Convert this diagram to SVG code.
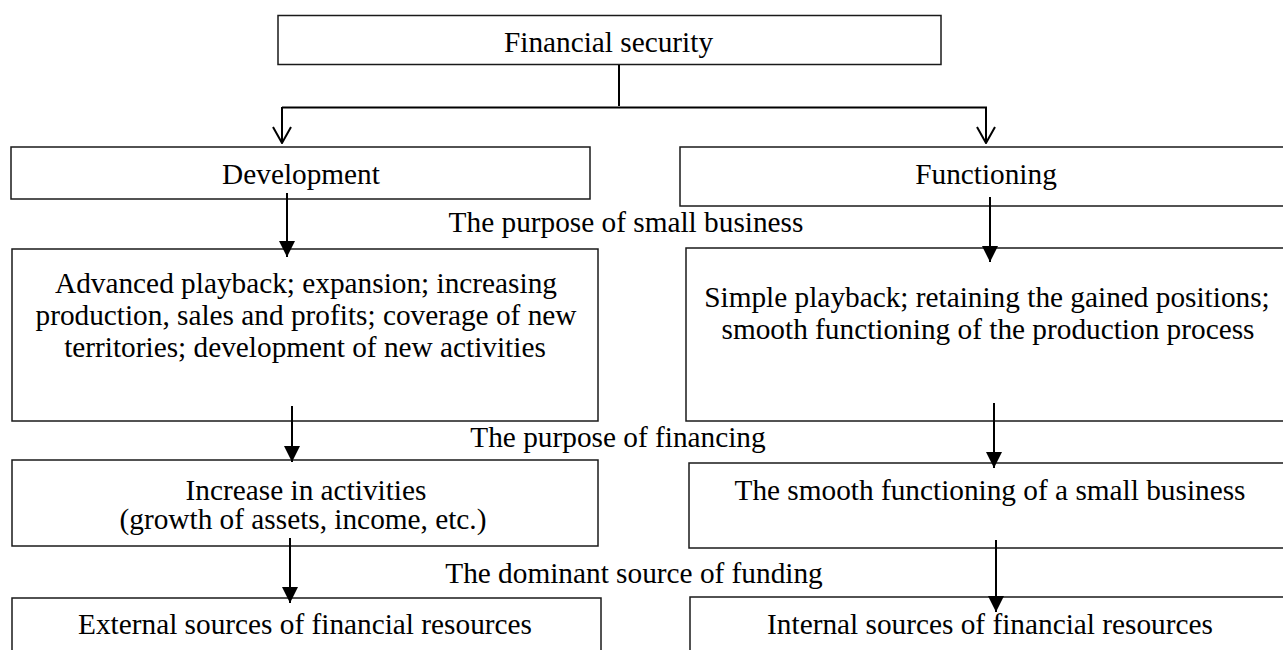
<svg xmlns="http://www.w3.org/2000/svg" width="1283" height="650" viewBox="0 0 1283 650">
  <style>
    .box { fill: #ffffff; stroke: #1a1a1a; stroke-width: 1.5; }
    .wire { fill: none; stroke: #000000; stroke-width: 2; }
    .label { font-family: "Liberation Serif", "Times New Roman", serif; font-size: 29.3px; fill: #000000; text-anchor: middle; }
  </style>
  <defs>
    <!-- heads are drawn pointing along +x so orient="auto" turns them with the line -->
    <marker id="open-head" viewBox="0 0 18 20" refX="17" refY="10" markerWidth="18" markerHeight="20" markerUnits="userSpaceOnUse" orient="auto">
      <path d="M1,1 L17,10 L1,19" fill="none" stroke="#000" stroke-width="2"/>
    </marker>
    <marker id="solid-head" viewBox="0 0 16 16" refX="16" refY="8" markerWidth="16" markerHeight="16" markerUnits="userSpaceOnUse" orient="auto">
      <path d="M0,0 L16,8 L0,16 Z" fill="#000"/>
    </marker>
  </defs>

  <rect width="1283" height="650" fill="#ffffff"/>

  <!-- boxes -->
  <g id="financial-security">
    <rect class="box" x="278" y="15.5" width="663" height="49"/>
    <text class="label" x="608.5" y="52">Financial security</text>
  </g>

  <g id="development">
    <rect class="box" x="11" y="147" width="579" height="52"/>
    <text class="label" x="301" y="184">Development</text>
  </g>

  <g id="functioning">
    <rect class="box" x="680" y="147" width="620" height="59"/>
    <text class="label" x="986" y="184">Functioning</text>
  </g>

  <g id="advanced-playback">
    <rect class="box" x="12" y="249" width="586" height="172"/>
    <text class="label" x="306" y="293">Advanced playback; expansion; increasing</text>
    <text class="label" x="306" y="325">production, sales and profits; coverage of new</text>
    <text class="label" x="305" y="357">territories; development of new activities</text>
  </g>

  <g id="simple-playback">
    <rect class="box" x="686" y="248" width="614" height="173"/>
    <text class="label" x="987" y="307">Simple playback; retaining the gained positions;</text>
    <text class="label" x="988" y="339">smooth functioning of the production process</text>
  </g>

  <g id="increase-activities">
    <rect class="box" x="12" y="460" width="586" height="86"/>
    <text class="label" x="306" y="500">Increase in activities</text>
    <text class="label" x="303" y="529">(growth of assets, income, etc.)</text>
  </g>

  <g id="smooth-functioning">
    <rect class="box" x="689" y="463" width="611" height="85"/>
    <text class="label" x="990" y="500">The smooth functioning of a small business</text>
  </g>

  <g id="external-sources">
    <rect class="box" x="12" y="598" width="589" height="70"/>
    <text class="label" x="305" y="634">External sources of financial resources</text>
  </g>

  <g id="internal-sources">
    <rect class="box" x="690" y="597" width="610" height="70"/>
    <text class="label" x="990" y="634">Internal sources of financial resources</text>
  </g>

  <!-- row captions -->
  <g id="captions">
    <text class="label" x="626" y="232">The purpose of small business</text>
    <text class="label" x="618" y="447">The purpose of financing</text>
    <text class="label" x="634" y="583">The dominant source of funding</text>
  </g>

  <!-- connectors -->
  <g id="connectors">
    <line class="wire" x1="619" y1="65" x2="619" y2="106"/>
    <line class="wire" x1="282" y1="107.5" x2="987" y2="107.5"/>
    <line class="wire" x1="282" y1="107" x2="282" y2="143" marker-end="url(#open-head)"/>
    <line class="wire" x1="986" y1="107" x2="986" y2="143" marker-end="url(#open-head)"/>

    <line class="wire" x1="287" y1="193" x2="287" y2="257" marker-end="url(#solid-head)"/>
    <line class="wire" x1="990" y1="197" x2="990" y2="262" marker-end="url(#solid-head)"/>

    <line class="wire" x1="292" y1="406" x2="292" y2="462" marker-end="url(#solid-head)"/>
    <line class="wire" x1="994" y1="403" x2="994" y2="468" marker-end="url(#solid-head)"/>

    <line class="wire" x1="290" y1="538" x2="290" y2="603" marker-end="url(#solid-head)"/>
    <line class="wire" x1="996" y1="540" x2="996" y2="612" marker-end="url(#solid-head)"/>
  </g>
</svg>
